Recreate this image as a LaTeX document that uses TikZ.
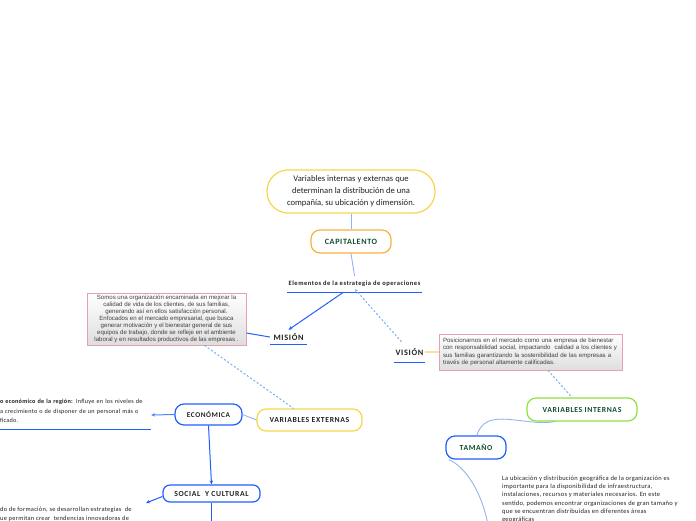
\documentclass[tikz,border=0pt]{standalone}
\usepackage{fontspec}
\setmainfont{Carlito}
\newfontfamily\boxfont{Liberation Sans}
\newfontfamily\lsfont[LetterSpace=8]{Carlito}
\newfontfamily\psfont[LetterSpace=4]{Carlito}
\usetikzlibrary{arrows.meta}
\definecolor{ylw}{HTML}{F7D54A}
\definecolor{org}{HTML}{F5B13D}
\definecolor{dgreen}{HTML}{0F4D2E}
\definecolor{bblue}{HTML}{1F5EFF}
\definecolor{mblue}{HTML}{4F86F7}
\definecolor{lblue}{HTML}{93B4F2}
\definecolor{dblue}{HTML}{75AEF2}
\definecolor{pinkb}{HTML}{E8A0AA}
\definecolor{lgreen}{HTML}{8DE23C}
\definecolor{lorange}{HTML}{FCDDB5}
\definecolor{txt}{HTML}{222222}
\tikzset{
  topic/.style={draw, line width=1.2pt, rounded corners=9pt, inner sep=0pt, align=center,
    text=txt, font=\lsfont\fontsize{7.7}{9}\selectfont\bfseries},
  lab/.style={inner sep=0pt, align=center, text=txt},
  ul/.style={draw=bblue, line width=1.3pt},
  conn/.style={draw=lblue, line width=0.9pt},
  arr/.style={draw=bblue, line width=1pt, -{Stealth[length=4pt,width=3.5pt]}},
  dconn/.style={draw=dblue, line width=1pt, dash pattern=on 2pt off 2pt},
  note/.style={draw=pinkb, line width=0.8pt, top color=white, bottom color=black!13,
    inner sep=0pt, text=black!75, font=\boxfont\fontsize{6.1}{7}\selectfont},
  para/.style={inner sep=0pt, align=left, text=txt, font=\psfont\fontsize{6.5}{8.3}\selectfont}
}
\begin{document}
\begin{tikzpicture}[x=1pt,y=-1pt]
\useasboundingbox (0,0) rectangle (696,520);
\clip (0,0) rectangle (696,520);

% nodes
\node[topic, draw=ylw, minimum width=168pt, minimum height=43pt, rounded corners=21pt,
  font=\fontsize{8.6}{12}\selectfont] (main) at (351,191.5)
  {Variables internas y externas que\\determinan la distribución de una\\compañía, su ubicación y dimensión.};
\node[topic, draw=org, text=dgreen, minimum width=80pt, minimum height=23pt,
  font=\lsfont\fontsize{8.1}{9}\selectfont\bfseries] (capi) at (351,241.5) {CAPITALENTO};
\node[lab, minimum width=135pt, minimum height=16pt, font=\lsfont\fontsize{6.5}{7}\selectfont\bfseries] (elem) at (354.5,284)
  {Elementos de la estrategia de operaciones};
\node[lab, minimum width=37pt, minimum height=14pt, font=\lsfont\fontsize{8.3}{9}\selectfont\bfseries] (mision) at (288.5,337) {MISIÓN};
\node[lab, minimum width=31pt, minimum height=20pt, font=\lsfont\fontsize{8.3}{9}\selectfont\bfseries] (vision) at (409.5,352) {VISIÓN};
\node[note, align=center, minimum width=159pt, minimum height=52pt] (mbox) at (166.5,319)
  {Somos una organización encaminada en mejorar la\\
   calidad de vida de los clientes, de sus familias,\\
   generando así en ellos satisfacción personal.\\
   Enfocados en el mercado empresarial, que busca\\
   generar motivación y el bienestar general de sus\\
   equipos de trabajo, donde se refleje en el ambiente\\
   laboral y en resultados productivos de las empresas .};
\node[note, align=left, minimum width=182pt, minimum height=36pt, text width=176pt, inner xsep=3.5pt,
  font=\boxfont\fontsize{6.1}{7.6}\selectfont] (vbox) at (531,352)
  {Posicionarnos en el mercado como una empresa de bienestar\\
   con responsabilidad social, impactando\ \ calidad a los clientes y\\
   sus familias garantizando la sostenibilidad de las empresas a\\
   través de personal altamente calificadas.};
\node[topic, draw=lgreen, text=dgreen, minimum width=110pt, minimum height=23pt] (vint) at (582,409.5) {VARIABLES INTERNAS};
\node[topic, draw=bblue, text=dgreen, minimum width=60pt, minimum height=23pt] (tam) at (476,447.5) {TAMAÑO};
\node[topic, draw=ylw, minimum width=105pt, minimum height=22pt] (vext) at (309.5,420) {VARIABLES EXTERNAS};
\node[topic, draw=bblue, minimum width=67pt, minimum height=21pt, font=\lsfont\fontsize{7.3}{9}\selectfont\bfseries] (econ) at (208.5,414.5) {ECONÓMICA};
\node[topic, draw=bblue, minimum width=97pt, minimum height=17pt, rounded corners=7pt] (social) at (211.5,493.5) {SOCIAL\ \ Y CULTURAL};
\node[para, text width=151pt, minimum height=36pt, font=\psfont\fontsize{6.2}{9.2}\selectfont] (etext) at (75.5,411)
  {\textbf{o económico de la región:} Influye en los niveles de\\
   a crecimiento o de disponer de un personal más o\\
   ficado.};
\node[para, anchor=north west, font=\psfont\fontsize{6.4}{9}\selectfont] (btext) at (0,506.5)
  {do de formación, se desarrollan estrategias\ \ de\\
   ue permitan crear\ \ tendencias innovadoras de};
\node[para, anchor=north west] (rtext) at (502,475.5)
  {La ubicación y distribución geográfica de la organización es\\
   importante para la disponibilidad de infraestructura,\\
   instalaciones, recursos y materiales necesarios. En este\\
   sentido, podemos encontrar organizaciones de gran tamaño y\\
   que se encuentran distribuidas en diferentes áreas\\
   geográficas};

\coordinate (tamend) at (488,525);
\coordinate (socend) at (211.5,525);
\coordinate (socarr) at (146,503);

% underlines
\draw[ul] (elem.south west) -- (elem.south east);
\draw[ul] (mision.south west) -- (mision.south east);
\draw[ul] (vision.south west) -- (vision.south east);
\draw[ul] (etext.south west) -- (etext.south east);

% connectors
\draw[conn] (main.south) -- (capi.north);
\draw[conn] (capi.south) -- (elem.north);
\draw[arr] ([xshift=-11pt]elem.south) -- (mision.north);
\draw[dconn, -{Stealth[length=3pt,width=3pt]}] ([xshift=-8pt]vision.north) -- ([xshift=0.5pt,yshift=3pt]elem.south);
\draw[draw=bblue, line width=1pt] ([yshift=-14pt]mbox.east) -- (mision.west);
\draw[dconn] ([xshift=38pt]mbox.south) -- ([xshift=-16pt]vext.north);
\draw[draw=lorange, line width=1.2pt] (vision.east) -- (vbox.west);
\draw[dconn] ([xshift=17pt]vbox.south) -- ([xshift=-10pt]vint.north);
\draw[conn] ([xshift=-27pt]vint.south) to[out=190,in=75] ([xshift=1pt]tam.north);
\draw[conn] ([xshift=-27pt]tam.south) to[out=-25,in=100,looseness=0.8] (tamend);
\draw[conn] (econ.east) -- (vext.west);
\draw[draw=mblue, line width=1pt, -{Stealth[length=4pt,width=3.5pt]}] (econ.west) -- ([yshift=-4pt]etext.east);
\draw[arr] (econ.south) -- (social.north);
\draw[arr] ([yshift=-3pt]social.west) -- (socarr);
\draw[draw=bblue, line width=1pt] (social.south) -- (socend);
\end{tikzpicture}
\end{document}
